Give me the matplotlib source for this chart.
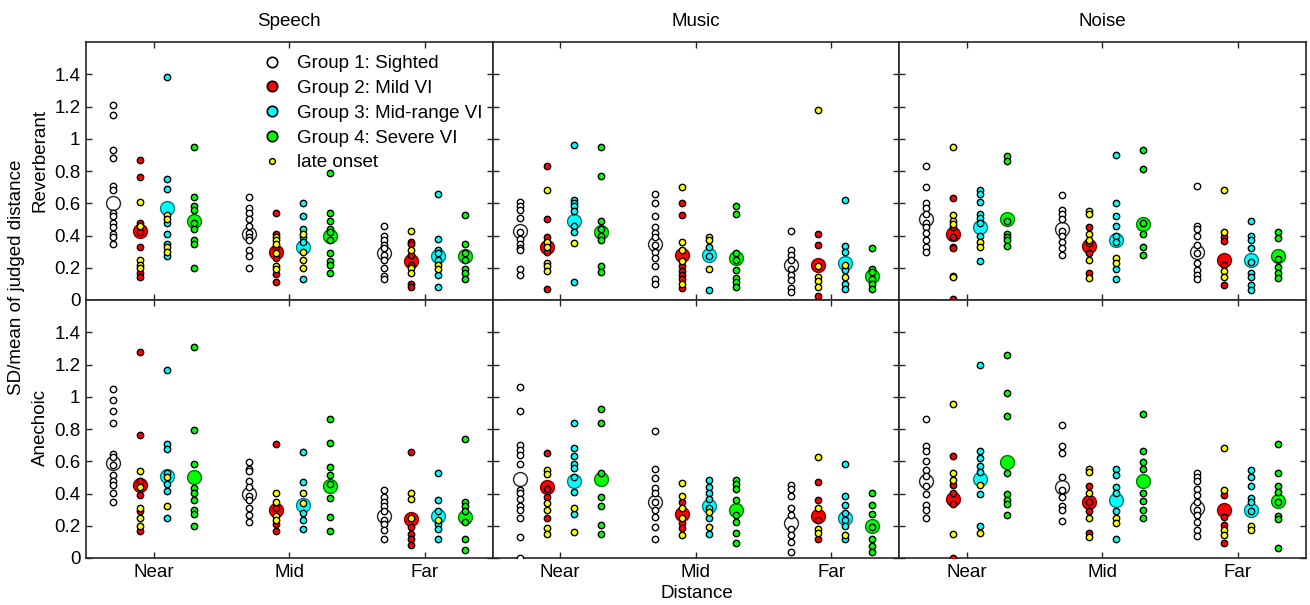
import matplotlib
matplotlib.use("Agg")
import matplotlib.pyplot as plt
from matplotlib.lines import Line2D

plt.rcParams['font.family'] = ['Liberation Sans', 'DejaVu Sans']

# ---------------- data ----------------
distances = ['Near', 'Mid', 'Far']
sources = ['Speech', 'Music', 'Noise']
rooms = ['Reverberant', 'Anechoic']
group_labels = ['Group 1: Sighted', 'Group 2: Mild VI', 'Group 3: Mid-range VI', 'Group 4: Severe VI']
late_label = 'late onset'
y_ticks = [0, 0.2, 0.4, 0.6, 0.8, 1.0, 1.2, 1.4]
y_tick_labels = ['0', '0.2', '0.4', '0.6', '0.8', '1', '1.2', '1.4']

# Speech, reverberant  (each: [Near, Mid, Far])
speech_rev_g1 = [[1.21, 1.15, 0.93, 0.88, 0.71, 0.68, 0.54, 0.52, 0.48, 0.45, 0.41, 0.39, 0.35],
                 [0.64, 0.57, 0.54, 0.50, 0.46, 0.415, 0.39, 0.37, 0.31, 0.27, 0.20],
                 [0.46, 0.40, 0.37, 0.34, 0.32, 0.28, 0.25, 0.20, 0.15, 0.13]]
speech_rev_g2 = [[0.87, 0.76, 0.48, 0.42, 0.33, 0.17, 0.14],
                 [0.54, 0.41, 0.33, 0.26, 0.16, 0.11],
                 [0.36, 0.35, 0.28, 0.22, 0.10, 0.08]]
speech_rev_g2_late = [[0.61, 0.46, 0.25, 0.22, 0.20],
                      [0.39, 0.37, 0.35, 0.29, 0.21, 0.19],
                      [0.43, 0.31, 0.20, 0.17]]
speech_rev_g3 = [[1.38, 0.75, 0.69, 0.48, 0.41, 0.35, 0.27],
                 [0.60, 0.52, 0.44, 0.39, 0.36, 0.13],
                 [0.66, 0.38, 0.31, 0.29, 0.25, 0.155, 0.08]]
speech_rev_g3_late = [[0.53, 0.50, 0.33, 0.30],
                      [0.41, 0.30, 0.25, 0.20],
                      [0.22, 0.19]]
speech_rev_g4 = [[0.95, 0.64, 0.58, 0.56, 0.48, 0.44, 0.37, 0.35, 0.20],
                 [0.79, 0.54, 0.49, 0.44, 0.42, 0.37, 0.29, 0.24, 0.22, 0.17],
                 [0.53, 0.35, 0.29, 0.25, 0.19, 0.165, 0.13]]
speech_rev_g4_late = [[], [], []]
speech_rev_means = [[0.60, 0.41, 0.29], [0.43, 0.30, 0.24], [0.57, 0.33, 0.27], [0.49, 0.40, 0.27]]

# Music, reverberant
music_rev_g1 = [[0.61, 0.58, 0.56, 0.51, 0.42, 0.38, 0.35, 0.32, 0.31, 0.19, 0.155],
                [0.66, 0.60, 0.52, 0.45, 0.415, 0.39, 0.34, 0.30, 0.26, 0.21, 0.13, 0.10],
                [0.43, 0.31, 0.28, 0.25, 0.195, 0.155, 0.125, 0.075, 0.05]]
music_rev_g2 = [[0.83, 0.50, 0.39, 0.30, 0.07],
                [0.60, 0.53, 0.21, 0.18, 0.155, 0.13, 0.075],
                [0.41, 0.34, 0.025]]
music_rev_g2_late = [[0.68, 0.36, 0.33, 0.23, 0.21, 0.18],
                     [0.70, 0.36, 0.31, 0.24, 0.10],
                     [1.18, 0.21, 0.145, 0.115, 0.08]]
music_rev_g3 = [[0.96, 0.62, 0.60, 0.58, 0.55, 0.46, 0.42, 0.11],
                [0.33, 0.27, 0.065],
                [0.62, 0.335, 0.295, 0.185, 0.10, 0.07]]
music_rev_g3_late = [[0.355], [0.39, 0.37, 0.19], [0.215, 0.14]]
music_rev_g4 = [[0.95, 0.77, 0.49, 0.44, 0.40, 0.37, 0.21, 0.175],
                [0.58, 0.535, 0.29, 0.25, 0.185, 0.135, 0.11, 0.08],
                [0.32, 0.195, 0.175, 0.13, 0.10, 0.07]]
music_rev_g4_late = [[], [], []]
music_rev_means = [[0.43, 0.35, 0.22], [0.33, 0.28, 0.22], [0.49, 0.28, 0.23], [0.42, 0.26, 0.15]]

# Noise, reverberant
noise_rev_g1 = [[0.83, 0.70, 0.60, 0.57, 0.535, 0.48, 0.45, 0.415, 0.375, 0.33, 0.30],
                [0.65, 0.56, 0.535, 0.50, 0.43, 0.40, 0.36, 0.32, 0.28],
                [0.705, 0.46, 0.44, 0.40, 0.34, 0.29, 0.23, 0.185, 0.155, 0.13]]
noise_rev_g2 = [[0.63, 0.45, 0.39, 0.33, 0.32, 0.005],
                [0.45, 0.355, 0.29, 0.165],
                [0.39, 0.365, 0.22, 0.095]]
noise_rev_g2_late = [[0.95, 0.53, 0.49, 0.47, 0.15, 0.14],
                     [0.55, 0.535, 0.41, 0.375, 0.245, 0.135],
                     [0.68, 0.42, 0.18, 0.145]]
noise_rev_g3 = [[0.68, 0.66, 0.61, 0.535, 0.51, 0.48, 0.40, 0.24],
                [0.90, 0.60, 0.52, 0.46, 0.40, 0.36, 0.195, 0.13],
                [0.49, 0.395, 0.375, 0.32, 0.235, 0.165, 0.14, 0.09, 0.065]]
noise_rev_g3_late = [[0.36, 0.33], [0.26, 0.23], []]
noise_rev_g4 = [[0.895, 0.865, 0.49, 0.41, 0.39, 0.37, 0.335],
                [0.93, 0.815, 0.48, 0.41, 0.33, 0.28],
                [0.42, 0.385, 0.255, 0.205, 0.17, 0.135]]
noise_rev_g4_late = [[], [], []]
noise_rev_means = [[0.50, 0.44, 0.30], [0.41, 0.335, 0.245], [0.45, 0.375, 0.245], [0.50, 0.47, 0.27]]

# Speech, anechoic
speech_ane_g1 = [[1.05, 0.98, 0.91, 0.835, 0.645, 0.625, 0.575, 0.515, 0.475, 0.45, 0.405, 0.35],
                 [0.595, 0.55, 0.54, 0.48, 0.44, 0.385, 0.36, 0.31, 0.265, 0.225],
                 [0.42, 0.38, 0.35, 0.32, 0.29, 0.235, 0.21, 0.175, 0.12]]
speech_ane_g2 = [[1.28, 0.765, 0.48, 0.39, 0.29, 0.17],
                 [0.71, 0.31, 0.21, 0.165],
                 [0.66, 0.195, 0.15, 0.115, 0.08]]
speech_ane_g2_late = [[0.54, 0.44, 0.31, 0.245, 0.20],
                      [0.405, 0.35, 0.26, 0.235],
                      [0.405, 0.365, 0.245]]
speech_ane_g3 = [[1.165, 0.705, 0.675, 0.525, 0.46, 0.415, 0.245],
                 [0.655, 0.47, 0.28, 0.235, 0.18],
                 [0.53, 0.36, 0.29, 0.21, 0.18, 0.115]]
speech_ane_g3_late = [[0.50, 0.32], [0.405, 0.34], [0.235]]
speech_ane_g4 = [[1.31, 0.795, 0.58, 0.435, 0.405, 0.36, 0.295, 0.27, 0.20],
                 [0.86, 0.715, 0.565, 0.515, 0.46, 0.37, 0.255, 0.17],
                 [0.735, 0.345, 0.32, 0.29, 0.225, 0.115, 0.05]]
speech_ane_g4_late = [[], [], []]
speech_ane_means = [[0.59, 0.395, 0.26], [0.45, 0.30, 0.24], [0.51, 0.33, 0.26], [0.50, 0.445, 0.255]]

# Music, anechoic
music_ane_g1 = [[1.06, 0.91, 0.70, 0.67, 0.64, 0.58, 0.42, 0.405, 0.365, 0.32, 0.30, 0.245, 0.13, 0.0],
                [0.79, 0.555, 0.495, 0.435, 0.405, 0.35, 0.30, 0.255, 0.19, 0.115],
                [0.45, 0.43, 0.385, 0.31, 0.265, 0.18, 0.145, 0.10, 0.035]]
music_ane_g2 = [[0.65, 0.43, 0.38, 0.245],
                [0.345, 0.215, 0.185],
                [0.47, 0.36, 0.235, 0.12]]
music_ane_g2_late = [[0.545, 0.52, 0.34, 0.30, 0.185, 0.15],
                     [0.465, 0.385, 0.31, 0.245, 0.145],
                     [0.625, 0.31, 0.18, 0.155]]
music_ane_g3 = [[0.84, 0.685, 0.635, 0.58, 0.56, 0.50, 0.41, 0.275],
                [0.485, 0.44, 0.405, 0.365, 0.31, 0.25, 0.15],
                [0.58, 0.385, 0.33, 0.28, 0.235, 0.20, 0.115]]
music_ane_g3_late = [[0.31, 0.16], [0.285, 0.19], [0.145]]
music_ane_g4 = [[0.925, 0.84, 0.53, 0.38, 0.32, 0.205, 0.15],
                [0.485, 0.46, 0.43, 0.36, 0.265, 0.225, 0.155, 0.095],
                [0.405, 0.33, 0.275, 0.195, 0.12, 0.075, 0.04]]
music_ane_g4_late = [[], [], []]
music_ane_means = [[0.49, 0.35, 0.22], [0.44, 0.275, 0.26], [0.475, 0.32, 0.245], [0.49, 0.295, 0.20]]

# Noise, anechoic
noise_ane_g1 = [[0.86, 0.695, 0.665, 0.60, 0.545, 0.51, 0.445, 0.40, 0.33, 0.30, 0.25],
                [0.825, 0.695, 0.65, 0.505, 0.42, 0.38, 0.32, 0.30, 0.23],
                [0.53, 0.505, 0.475, 0.43, 0.39, 0.35, 0.30, 0.265, 0.225, 0.175, 0.135]]
noise_ane_g2 = [[0.63, 0.45, 0.405, 0.335, 0.0],
                [0.445, 0.345, 0.29, 0.155],
                [0.39, 0.255, 0.205, 0.095]]
noise_ane_g2_late = [[0.955, 0.525, 0.485, 0.15],
                     [0.55, 0.535, 0.405, 0.245, 0.13],
                     [0.685, 0.42, 0.175, 0.145]]
noise_ane_g3 = [[1.20, 0.665, 0.62, 0.57, 0.535, 0.395, 0.20],
                [0.555, 0.515, 0.44, 0.405, 0.29, 0.12],
                [0.545, 0.50, 0.445, 0.37, 0.35, 0.29]]
noise_ane_g3_late = [[0.455, 0.155], [0.25, 0.22], [0.20, 0.175]]
noise_ane_g4 = [[1.26, 1.025, 0.88, 0.525, 0.395, 0.36, 0.335, 0.265],
                [0.895, 0.665, 0.595, 0.555, 0.405, 0.355, 0.30, 0.25],
                [0.71, 0.53, 0.445, 0.41, 0.35, 0.26, 0.24, 0.065]]
noise_ane_g4_late = [[], [], []]
noise_ane_means = [[0.475, 0.44, 0.31], [0.365, 0.345, 0.295], [0.49, 0.36, 0.30], [0.595, 0.48, 0.355]]

# ---------------- style ----------------
group_colors = ['#ffffff', '#ff0000', '#00ffff', '#00ff00']
late_color = '#ffff00'
mean_edges = ['#222222', '#7a0000', '#007a80', '#007a00']
offsets = [-0.3, -0.1, 0.1, 0.3]
axis_color = '#262626'
FS = 13.5

panels = {
    (0, 0): ([speech_rev_g1, speech_rev_g2, speech_rev_g3, speech_rev_g4],
             [None, speech_rev_g2_late, speech_rev_g3_late, speech_rev_g4_late], speech_rev_means),
    (0, 1): ([music_rev_g1, music_rev_g2, music_rev_g3, music_rev_g4],
             [None, music_rev_g2_late, music_rev_g3_late, music_rev_g4_late], music_rev_means),
    (0, 2): ([noise_rev_g1, noise_rev_g2, noise_rev_g3, noise_rev_g4],
             [None, noise_rev_g2_late, noise_rev_g3_late, noise_rev_g4_late], noise_rev_means),
    (1, 0): ([speech_ane_g1, speech_ane_g2, speech_ane_g3, speech_ane_g4],
             [None, speech_ane_g2_late, speech_ane_g3_late, speech_ane_g4_late], speech_ane_means),
    (1, 1): ([music_ane_g1, music_ane_g2, music_ane_g3, music_ane_g4],
             [None, music_ane_g2_late, music_ane_g3_late, music_ane_g4_late], music_ane_means),
    (1, 2): ([noise_ane_g1, noise_ane_g2, noise_ane_g3, noise_ane_g4],
             [None, noise_ane_g2_late, noise_ane_g3_late, noise_ane_g4_late], noise_ane_means),
}

W, H = 1310, 605
fig = plt.figure(figsize=(W / 100, H / 100), dpi=100)

left_px, right_px = 86, 1305.5
top_px, mid_px, bot_px = 42, 300, 558
pw = (right_px - left_px) / 3

axes = {}
for r in range(2):
    for c in range(3):
        x0 = left_px + c * pw
        y_top = top_px if r == 0 else mid_px
        y_bot = mid_px if r == 0 else bot_px
        ax = fig.add_axes([x0 / W, 1 - y_bot / H, pw / W, (y_bot - y_top) / H])
        axes[(r, c)] = ax

        groups, lates, means = panels[(r, c)]
        for gi in range(4):
            for di in range(3):
                xpos = di + 1 + offsets[gi]
                ax.plot([xpos], [means[gi][di]], linestyle='none', marker='o', ms=10,
                        mfc=group_colors[gi], mec=mean_edges[gi], mew=1.0, zorder=2)
        for gi in range(4):
            for di in range(3):
                xpos = di + 1 + offsets[gi]
                vals = groups[gi][di]
                ax.plot([xpos] * len(vals), vals, linestyle='none', marker='o', ms=4.6,
                        mfc=group_colors[gi], mec='black', mew=1.0, zorder=3)
                if lates[gi] is not None and len(lates[gi][di]) > 0:
                    lv = lates[gi][di]
                    ax.plot([xpos] * len(lv), lv, linestyle='none', marker='o', ms=4.6,
                            mfc=late_color, mec='black', mew=1.0, zorder=3)

        ax.set_xlim(0.5, 3.5)
        ax.set_ylim(0, 1.6)
        ax.set_xticks([1, 2, 3])
        ax.set_yticks(y_ticks)
        ax.tick_params(direction='in', length=4, width=1, colors=axis_color,
                       top=True, right=True, labelsize=FS, labelcolor='black', pad=4)
        if c == 0:
            ax.set_yticklabels(y_tick_labels)
        else:
            ax.set_yticklabels([])
        if r == 1:
            ax.set_xticklabels(distances)
        else:
            ax.set_xticklabels([])
        for sp in ax.spines.values():
            sp.set_color(axis_color)
            sp.set_linewidth(1.2)

for c in range(3):
    cx = left_px + (c + 0.5) * pw
    fig.text(cx / W, 1 - 21 / H, sources[c], ha='center', va='center', fontsize=FS)

fig.text(697 / W, 1 - 594 / H, 'Distance', ha='center', va='center', fontsize=FS)
fig.text(17 / W, 1 - 277 / H, 'SD/mean of judged distance', ha='center', va='center',
         rotation=90, fontsize=FS)
fig.text(40 / W, 1 - 160 / H, rooms[0], ha='center', va='center', rotation=90, fontsize=FS)
fig.text(40 / W, 1 - 427 / H, rooms[1], ha='center', va='center', rotation=90, fontsize=FS)

# legend
handles = [Line2D([], [], linestyle='none', marker='o', ms=7.5, mfc=group_colors[i],
                  mec='black', mew=1.2) for i in range(4)]
handles.append(Line2D([], [], linestyle='none', marker='o', ms=4.2, mfc=late_color,
                      mec='black', mew=1.0))
ax0 = axes[(0, 0)]
ax0.legend(handles, group_labels + [late_label], loc='upper left',
           bbox_to_anchor=((262.5 - left_px) / pw, 1 - (55 - top_px) / (mid_px - top_px)),
           frameon=False, fontsize=FS, handlelength=1.0, handletextpad=0.83,
           borderpad=0, borderaxespad=0, labelspacing=0.41)

fig.savefig('out.png', dpi=100)
